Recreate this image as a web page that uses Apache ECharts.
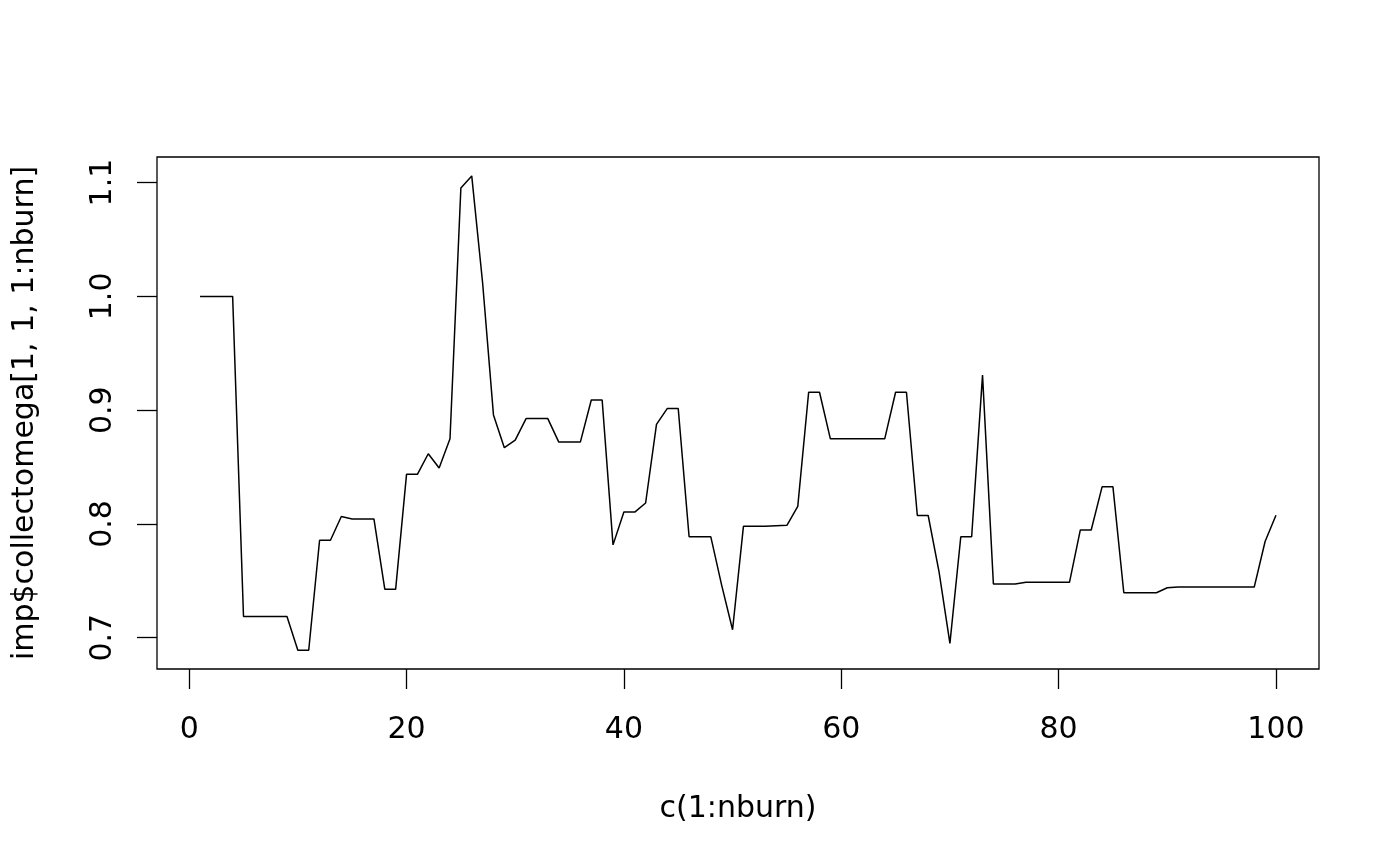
<!DOCTYPE html>
<html>
<head>
<meta charset="utf-8">
<title>imp$collectomega trace</title>
<script src="https://cdn.jsdelivr.net/npm/echarts@6.0.0/dist/echarts.min.js"></script>
<style>
  html, body { margin: 0; padding: 0; background: #fff; }
  #chart { width: 1400px; height: 866px; }
</style>
</head>
<body>
<div id="chart"></div>
<script>
// iteration index, c(1:nburn)
const iterations = [
  1, 2, 3, 4, 5, 6, 7, 8, 9, 10,
  11, 12, 13, 14, 15, 16, 17, 18, 19, 20,
  21, 22, 23, 24, 25, 26, 27, 28, 29, 30,
  31, 32, 33, 34, 35, 36, 37, 38, 39, 40,
  41, 42, 43, 44, 45, 46, 47, 48, 49, 50,
  51, 52, 53, 54, 55, 56, 57, 58, 59, 60,
  61, 62, 63, 64, 65, 66, 67, 68, 69, 70,
  71, 72, 73, 74, 75, 76, 77, 78, 79, 80,
  81, 82, 83, 84, 85, 86, 87, 88, 89, 90,
  91, 92, 93, 94, 95, 96, 97, 98, 99, 100
];

// imp$collectomega[1, 1, 1:nburn]
const omega = [
  1.000, 1.000, 1.000, 1.000, 0.7187, 0.7187, 0.7187, 0.7187, 0.7187, 0.689,
  0.689, 0.7857, 0.7857, 0.8065, 0.8044, 0.8044, 0.8044, 0.7427, 0.7427, 0.8436,
  0.8436, 0.8617, 0.8492, 0.8748, 1.0952, 1.1059, 1.012, 0.8958, 0.867, 0.8736,
  0.8926, 0.8926, 0.8926, 0.8721, 0.8721, 0.8721, 0.9089, 0.9089, 0.7816, 0.8104,
  0.8104, 0.8184, 0.8875, 0.9015, 0.9015, 0.7887, 0.7887, 0.7887, 0.746, 0.707,
  0.7979, 0.7979, 0.7979, 0.7985, 0.7988, 0.8154, 0.9157, 0.9157, 0.8748, 0.8748,
  0.8748, 0.8748, 0.8748, 0.8748, 0.9157, 0.9157, 0.8074, 0.8074, 0.7579, 0.695,
  0.7887, 0.7887, 0.9308, 0.7472, 0.7472, 0.7472, 0.7487, 0.7487, 0.7487, 0.7487,
  0.7487, 0.7947, 0.7947, 0.8326, 0.8326, 0.7395, 0.7395, 0.7395, 0.7395, 0.7439,
  0.7445, 0.7445, 0.7445, 0.7445, 0.7445, 0.7445, 0.7445, 0.7445, 0.7846, 0.8077
];

const xTicks = [0, 20, 40, 60, 80, 100];
const yTicks = [0.7, 0.8, 0.9, 1.0, 1.1];

const chart = echarts.init(document.getElementById('chart'), null, { renderer: 'canvas' });

const font = 'DejaVu Sans';
const textSize = 30;

chart.setOption({
  backgroundColor: '#ffffff',
  animation: false,
  textStyle: { fontFamily: font, color: '#000' },
  grid: {
    left: 157,
    right: 81,
    top: 157,
    bottom: 197,
    show: true,
    borderColor: '#000',
    borderWidth: 1.3,
    backgroundColor: 'transparent'
  },
  xAxis: {
    type: 'value',
    min: -2.96,
    max: 103.96,
    name: 'c(1:nburn)',
    nameLocation: 'middle',
    nameGap: 125,
    nameTextStyle: { fontFamily: font, fontSize: textSize, color: '#000' },
    splitLine: { show: false },
    axisLine: { show: false, onZero: false },
    axisTick: {
      show: true,
      inside: false,
      length: 20,
      customValues: xTicks,
      lineStyle: { color: '#000', width: 1.3 }
    },
    axisLabel: {
      show: true,
      margin: 46,
      customValues: xTicks,
      fontFamily: font,
      fontSize: textSize,
      color: '#000'
    }
  },
  yAxis: {
    type: 'value',
    min: 0.6725,
    max: 1.1225,
    name: 'imp$collectomega[1, 1, 1:nburn]',
    nameLocation: 'middle',
    nameGap: 117,
    nameTextStyle: { fontFamily: font, fontSize: textSize, color: '#000' },
    splitLine: { show: false },
    axisLine: { show: false, onZero: false },
    axisTick: {
      show: true,
      inside: false,
      length: 20,
      customValues: yTicks,
      lineStyle: { color: '#000', width: 1.3 }
    },
    axisLabel: {
      show: true,
      rotate: 90,
      margin: 39,
      customValues: yTicks,
      fontFamily: font,
      fontSize: textSize,
      color: '#000',
      formatter: v => v.toFixed(1)
    }
  },
  series: [{
    type: 'line',
    data: iterations.map((it, k) => [it, omega[k]]),
    showSymbol: false,
    symbol: 'none',
    lineStyle: { color: '#000', width: 1.5 },
    clip: true
  }]
});
</script>
</body>
</html>
